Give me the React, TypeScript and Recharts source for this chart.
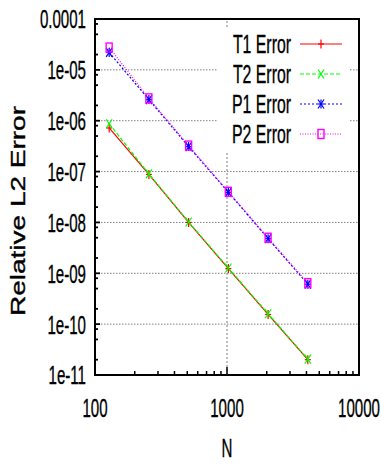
import React from 'react';
import { LineChart, Line, XAxis, YAxis, ReferenceLine, ReferenceArea, Legend } from 'recharts';

// values (log-log)
const N_VALUES = [128, 256, 512, 1024, 2048, 4096];
const T1_ERROR = [7.2e-7, 8.8e-8, 1.0e-8, 1.24e-9, 1.55e-10, 2.0e-11];
const T2_ERROR = [8.7e-7, 9.0e-8, 1.02e-8, 1.27e-9, 1.6e-10, 2.05e-11];
const P1_ERROR = [2.2e-5, 2.6e-6, 3.1e-7, 3.9e-8, 4.8e-9, 6.1e-10];
const P2_ERROR = [2.75e-5, 2.75e-6, 3.25e-7, 4.0e-8, 5.0e-9, 6.4e-10];

const X_MAJOR = [100, 1000, 10000];
const X_TICK_LABELS = ['100', '1000', '10000'];
const Y_MAJOR = [1e-11, 1e-10, 1e-9, 1e-8, 1e-7, 1e-6, 1e-5, 1e-4];
const Y_TICK_LABELS = ['1e-11', '1e-10', '1e-09', '1e-08', '1e-07', '1e-06', '1e-05', '0.0001'];
const X_MINOR_STEPS = [2, 3, 4, 5, 6, 7, 8, 9];
const Y_MINOR_STEPS = [2, 5, 8];
const X_GRID = [1000];
const Y_GRID = [1e-10, 1e-9, 1e-8, 1e-7, 1e-6, 1e-5];

const SERIES = [
  { key: 't1', name: 'T1 Error', color: '#ff0000', dash: undefined, marker: 'plus', values: T1_ERROR },
  { key: 't2', name: 'T2 Error', color: '#00ff00', dash: '4 2', marker: 'cross', values: T2_ERROR },
  { key: 'p1', name: 'P1 Error', color: '#0000ff', dash: '2 2', marker: 'star', values: P1_ERROR },
  { key: 'p2', name: 'P2 Error', color: '#ff00ff', dash: '1 1.5', marker: 'square', values: P2_ERROR },
];

const data = N_VALUES.map((n, i) => {
  const row: Record<string, number> = { n };
  SERIES.forEach((s) => { row[s.key] = s.values[i]; });
  return row;
});

const withMinor = (majors: number[], steps: number[]) => {
  const out: number[] = [];
  majors.forEach((m, i) => {
    out.push(m);
    if (i < majors.length - 1) steps.forEach((s) => out.push(m * s));
  });
  return out;
};
const X_TICKS = withMinor(X_MAJOR, X_MINOR_STEPS);
const Y_TICKS = withMinor(Y_MAJOR, Y_MINOR_STEPS);

const FONT = '"Liberation Sans", Arial, Helvetica, sans-serif';
const FONT_SIZE = 26;
const SQUEEZE = 0.58;
const LEGEND_SQUEEZE = 0.61;
const DOMAIN_X: [number, number] = [100, 10000];
const DOMAIN_Y: [number, number] = [1e-11, 1e-4];

// slightly heavier glyphs, like the original raster
const TEXT_STYLE = { fontSize: FONT_SIZE, fontFamily: FONT, fill: '#000', stroke: '#000', strokeWidth: 0.35 };

const majorIndex = (v: number, majors: number[]) =>
  majors.findIndex((m) => Math.abs(Math.log10(v / m)) < 1e-6);

function marker(kind: string, cx: number, cy: number, color: string, key?: string) {
  const w = 3;
  const h = 4.5;
  const sw = 1.2;
  if (kind === 'square') {
    return <rect key={key} x={cx - w} y={cy - h} width={2 * w} height={2 * h} fill="none" stroke={color} strokeWidth={1.4} />;
  }
  const plus = [
    <line key="a" x1={cx - w} y1={cy} x2={cx + w} y2={cy} stroke={color} strokeWidth={sw} />,
    <line key="b" x1={cx} y1={cy - h} x2={cx} y2={cy + h} stroke={color} strokeWidth={sw} />,
  ];
  const cross = [
    <line key="c" x1={cx - w} y1={cy - h} x2={cx + w} y2={cy + h} stroke={color} strokeWidth={sw} />,
    <line key="d" x1={cx - w} y1={cy + h} x2={cx + w} y2={cy - h} stroke={color} strokeWidth={sw} />,
  ];
  if (kind === 'plus') return <g key={key}>{plus}</g>;
  if (kind === 'cross') return <g key={key}>{cross}</g>;
  return <g key={key}>{plus}{cross}</g>;
}

const BottomTick = (props: any) => {
  const { x, y, payload } = props;
  const i = majorIndex(payload.value, X_MAJOR);
  const len = i >= 0 ? 8 : 4;
  return (
    <g>
      <line x1={x} y1={y} x2={x} y2={y - len} stroke="#000" strokeWidth={1.5} />
      {i >= 0 && (
        <text transform={`translate(${x},${y + 42}) scale(${SQUEEZE},1)`} textAnchor="middle" style={TEXT_STYLE}>
          {X_TICK_LABELS[i]}
        </text>
      )}
    </g>
  );
};

const TopTick = (props: any) => {
  const { x, y, payload } = props;
  const len = majorIndex(payload.value, X_MAJOR) >= 0 ? 8 : 4;
  return <line x1={x} y1={y} x2={x} y2={y + len} stroke="#000" strokeWidth={1.5} />;
};

const LeftTick = (props: any) => {
  const { x, y, payload } = props;
  const i = majorIndex(payload.value, Y_MAJOR);
  const len = i >= 0 ? 5 : 3;
  return (
    <g>
      <line x1={x} y1={y} x2={x + len} y2={y} stroke="#000" strokeWidth={1.8} />
      {i >= 0 && (
        <text transform={`translate(${x - 9},${y}) scale(${SQUEEZE},1)`} dy="0.36em" textAnchor="end" style={TEXT_STYLE}>
          {Y_TICK_LABELS[i]}
        </text>
      )}
    </g>
  );
};

const RightTick = (props: any) => {
  const { x, y, payload } = props;
  const len = majorIndex(payload.value, Y_MAJOR) >= 0 ? 5 : 3;
  return <line x1={x} y1={y} x2={x - len} y2={y} stroke="#000" strokeWidth={1.8} />;
};

const XTitle = (props: any) => {
  const vb = props.viewBox || { x: 0, y: 0, width: 0, height: 0 };
  return (
    <text transform={`translate(${vb.x + vb.width / 2},${vb.y + 82}) scale(${SQUEEZE},1)`} textAnchor="middle"
      style={TEXT_STYLE}>N</text>
  );
};

const YTitle = (props: any) => {
  const vb = props.viewBox || { x: 0, y: 0, width: 0, height: 0 };
  return (
    <text transform={`translate(${vb.x + 17},${vb.y + vb.height / 2 + 14}) rotate(-90) scale(1,0.75)`} dy="0.36em"
      textAnchor="middle" style={{ ...TEXT_STYLE, fontSize: 28, strokeWidth: 0.5 }}>Relative L2 Error</text>
  );
};

const renderLegend = (props: any) => {
  const order = (e: any) => SERIES.findIndex((s) => s.key === e.dataKey);
  const payload = [...(props.payload || [])].sort((a: any, b: any) => order(a) - order(b));
  return (
    <svg width={132} height={123} style={{ display: 'block' }}>
      {payload.map((entry: any, i: number) => {
        const s = SERIES[order(entry)] || SERIES[i];
        const cy = 15 + i * 30;
        return (
          <g key={s.key}>
            <text transform={`translate(73,${cy}) scale(${LEGEND_SQUEEZE},1)`} dy="0.36em" textAnchor="end"
              style={TEXT_STYLE}>{entry.value}</text>
            <line x1={82} y1={cy} x2={124} y2={cy} stroke={s.color} strokeWidth={1.2} strokeDasharray={s.dash} />
            {marker(s.marker, 103, cy, s.color)}
          </g>
        );
      })}
    </svg>
  );
};

export default function App() {
  return (
    <div style={{ position: 'absolute', left: 0, top: 0 }}>
      <LineChart width={382} height={464} data={data} margin={{ top: 19, right: 23, left: 0, bottom: 0 }}>
        <XAxis xAxisId="top" orientation="top" type="number" scale="log" domain={DOMAIN_X} allowDataOverflow
          ticks={X_TICKS} interval={0} height={0} tickSize={0} tickMargin={0} axisLine={false} tickLine={false}
          tick={TopTick} />
        <XAxis dataKey="n" type="number" scale="log" domain={DOMAIN_X} allowDataOverflow ticks={X_TICKS}
          interval={0} height={89} tickSize={0} tickMargin={0} axisLine={false} tickLine={false} tick={BottomTick}
          label={XTitle} />
        <YAxis type="number" scale="log" domain={DOMAIN_Y} allowDataOverflow ticks={Y_TICKS} interval={0}
          width={95} tickSize={0} tickMargin={0} axisLine={false} tickLine={false} tick={LeftTick} label={YTitle} />
        <YAxis yAxisId="right" orientation="right" type="number" scale="log" domain={DOMAIN_Y} allowDataOverflow
          ticks={Y_TICKS} interval={0} width={0} tickSize={0} tickMargin={0} axisLine={false} tickLine={false}
          tick={RightTick} />
        {Y_GRID.map((v) => (
          <ReferenceLine key={`gy${v}`} y={v} stroke="#808080" strokeWidth={1} strokeDasharray="1.5 1.5" />
        ))}
        {X_GRID.map((v) => (
          <ReferenceLine key={`gx${v}`} x={v} stroke="#808080" strokeWidth={1} strokeDasharray="2 2" />
        ))}
        <ReferenceArea x1={DOMAIN_X[0]} x2={DOMAIN_X[1]} y1={DOMAIN_Y[0]} y2={DOMAIN_Y[1]} fill="none"
          stroke="#000" strokeWidth={2} />
        {SERIES.map((s) => (
          <Line key={s.key} dataKey={s.key} name={s.name} type="linear" stroke={s.color} strokeWidth={1.2}
            strokeDasharray={s.dash} isAnimationActive={false} activeDot={false}
            dot={(p: any) => marker(s.marker, p.cx, p.cy, s.color, `${s.key}-${p.index}`)} />
        ))}
        <Legend layout="vertical" align="center" verticalAlign="middle" content={renderLegend}
          wrapperStyle={{ position: 'absolute', left: 218, top: 29, width: 132, height: 123, background: '#fff' }} />
      </LineChart>
    </div>
  );
}
